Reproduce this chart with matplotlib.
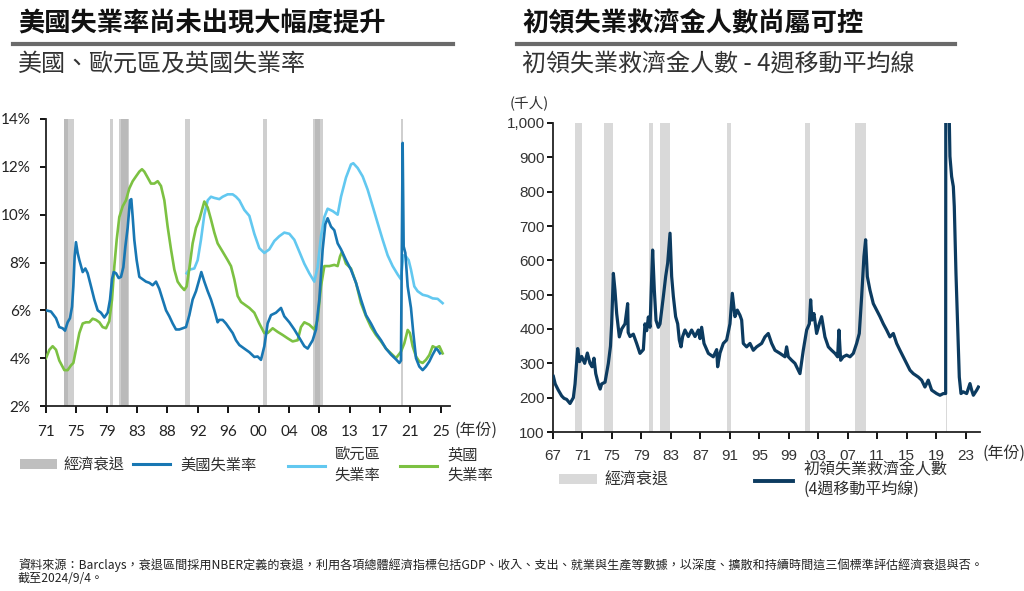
import matplotlib
matplotlib.use('Agg')
import matplotlib.pyplot as plt
import numpy as np
from matplotlib.lines import Line2D
from matplotlib.patches import Patch

W, H = 1024, 591
CJK = ['Noto Sans CJK TC', 'DejaVu Sans']
plt.rcParams['font.family'] = CJK

# ---------------- data: left chart (unemployment rate, %) ----------------
us_year = [1971.50, 1972.18, 1972.87, 1973.32, 1973.78, 1974.10, 1974.46, 1974.78, 1975.06, 1975.24,
           1975.42, 1975.60, 1975.83, 1976.06, 1976.52, 1976.88, 1977.20, 1977.66, 1978.11, 1978.57,
           1979.02, 1979.48, 1979.94, 1980.26, 1980.53, 1980.76, 1981.08, 1981.44, 1981.76, 1982.08,
           1982.35, 1982.67, 1982.99, 1983.17, 1983.36, 1983.58, 1983.90, 1984.27, 1984.72, 1985.18,
           1985.64, 1986.09, 1986.55, 1987.00, 1987.46, 1987.92, 1988.37, 1988.83, 1989.28, 1989.74,
           1990.20, 1990.65, 1991.11, 1991.56, 1992.02, 1992.48, 1992.75, 1993.16, 1993.62, 1994.07,
           1994.53, 1994.98, 1995.21, 1995.67, 1996.12, 1996.58, 1997.04, 1997.49, 1997.95, 1998.63,
           1999.32, 2000.00, 2000.45, 2000.91, 2001.37, 2001.82, 2002.28, 2002.96, 2003.65, 2004.10,
           2004.79, 2005.47, 2006.16, 2006.84, 2007.30, 2007.98, 2008.44, 2008.89, 2009.35, 2009.71,
           2010.03, 2010.49, 2010.94, 2011.40, 2011.86, 2012.54, 2013.22, 2013.91, 2014.59, 2015.28,
           2015.96, 2016.64, 2017.33, 2018.01, 2018.70, 2019.38, 2019.84, 2020.06, 2020.29, 2020.43,
           2020.66, 2020.98, 2021.43, 2021.75, 2022.12, 2022.57, 2023.03, 2023.48, 2023.94, 2024.40,
           2024.85, 2025.08, 2025.40]
us_rate = [6.00, 5.95, 5.67, 5.30, 5.25, 5.15, 5.50, 5.67, 6.15, 7.00,
           8.25, 8.85, 8.40, 8.10, 7.60, 7.75, 7.55, 7.00, 6.45, 6.00,
           5.90, 5.70, 5.90, 6.45, 7.30, 7.60, 7.55, 7.35, 7.40, 7.80,
           8.65, 9.45, 10.60, 10.65, 9.90, 8.95, 8.10, 7.40, 7.30, 7.20,
           7.15, 7.05, 7.20, 6.90, 6.45, 6.00, 5.75, 5.45, 5.20, 5.20,
           5.25, 5.30, 5.80, 6.45, 6.80, 7.30, 7.60, 7.20, 6.80, 6.45,
           6.00, 5.50, 5.60, 5.60, 5.45, 5.25, 5.05, 4.75, 4.55, 4.40,
           4.25, 4.05, 4.07, 3.93, 4.50, 5.45, 5.80, 5.90, 6.10, 5.75,
           5.50, 5.20, 4.85, 4.50, 4.40, 4.75, 5.20, 6.45, 8.55, 9.60,
           9.85, 9.50, 9.35, 8.80, 8.55, 8.10, 7.70, 7.15, 6.45, 5.80,
           5.45, 5.05, 4.75, 4.40, 4.15, 3.95, 3.80, 3.90, 13.00, 8.67,
           8.40, 7.00, 6.10, 5.05, 4.00, 3.65, 3.50, 3.65, 3.86, 4.15,
           4.40, 4.35, 4.20]

ez_year = [1990.74, 1991.11, 1991.79, 1992.25, 1992.70, 1993.16, 1993.62, 1994.07, 1994.53, 1995.21,
           1995.67, 1996.35, 1997.04, 1997.49, 1997.95, 1998.63, 1999.32, 2000.00, 2000.68, 2001.37,
           2002.05, 2002.74, 2003.42, 2004.10, 2004.79, 2005.47, 2006.16, 2006.84, 2007.52, 2008.21,
           2008.66, 2009.12, 2009.58, 2010.03, 2010.72, 2011.40, 2011.86, 2012.54, 2013.22, 2013.54,
           2014.14, 2014.82, 2015.50, 2016.19, 2016.87, 2017.56, 2018.24, 2018.92, 2019.61, 2020.06,
           2020.38, 2020.75, 2021.11, 2021.43, 2021.89, 2022.34, 2023.03, 2023.71, 2024.40, 2025.08,
           2025.76]
ez_rate = [7.55, 7.70, 7.75, 8.10, 8.95, 10.00, 10.60, 10.75, 10.70, 10.65,
           10.75, 10.85, 10.85, 10.75, 10.60, 10.20, 9.95, 9.20, 8.60, 8.40,
           8.55, 8.90, 9.10, 9.25, 9.20, 8.95, 8.45, 7.95, 7.55, 7.20,
           7.80, 9.10, 9.90, 10.25, 10.15, 10.00, 10.75, 11.55, 12.10, 12.15,
           11.95, 11.60, 11.05, 10.35, 9.65, 8.95, 8.30, 7.85, 7.50, 7.30,
           8.30, 8.25, 8.10, 7.70, 7.00, 6.80, 6.65, 6.60, 6.50, 6.48,
           6.30]

uk_year = [1971.50, 1971.96, 1972.41, 1972.87, 1973.32, 1974.01, 1974.46, 1974.92, 1975.24, 1975.60,
           1976.06, 1976.52, 1976.97, 1977.43, 1977.88, 1978.34, 1978.80, 1979.25, 1979.71, 1980.16,
           1980.53, 1980.85, 1981.17, 1981.53, 1981.99, 1982.44, 1982.90, 1983.36, 1983.81, 1984.27,
           1984.63, 1984.95, 1985.41, 1985.86, 1986.32, 1986.78, 1987.23, 1987.69, 1988.14, 1988.60,
           1989.06, 1989.51, 1989.97, 1990.42, 1990.74, 1991.11, 1991.56, 1992.02, 1992.48, 1992.84,
           1993.16, 1993.62, 1994.07, 1994.53, 1994.98, 1995.67, 1996.35, 1996.81, 1997.26, 1997.72,
           1998.18, 1998.86, 1999.32, 2000.00, 2000.68, 2001.37, 2001.82, 2002.51, 2003.19, 2003.88,
           2004.56, 2005.24, 2005.93, 2006.38, 2006.84, 2007.52, 2008.21, 2008.66, 2009.12, 2009.58,
           2010.26, 2010.94, 2011.40, 2011.72, 2011.99, 2012.54, 2013.22, 2013.91, 2014.59, 2015.28,
           2015.96, 2016.64, 2017.33, 2018.01, 2018.70, 2019.38, 2020.06, 2020.52, 2020.98, 2021.29,
           2021.66, 2022.12, 2022.57, 2023.03, 2023.48, 2023.94, 2024.40, 2024.85, 2025.31, 2025.76]
uk_rate = [4.00, 4.35, 4.50, 4.35, 3.90, 3.50, 3.50, 3.70, 3.80, 4.35,
           5.05, 5.45, 5.50, 5.50, 5.65, 5.60, 5.50, 5.30, 5.25, 5.55,
           6.45, 7.85, 8.95, 9.90, 10.35, 10.60, 11.10, 11.40, 11.60, 11.80,
           11.90, 11.80, 11.55, 11.30, 11.30, 11.40, 11.20, 10.60, 9.50, 8.55,
           7.70, 7.20, 7.00, 6.85, 7.00, 7.75, 8.80, 9.45, 9.80, 10.20,
           10.55, 10.30, 9.80, 9.25, 8.80, 8.45, 8.10, 7.85, 7.30, 6.60,
           6.35, 6.20, 6.10, 5.90, 5.45, 5.05, 5.05, 5.25, 5.10, 4.97,
           4.83, 4.70, 4.75, 5.30, 5.50, 5.40, 5.20, 5.60, 7.00, 7.85,
           7.85, 7.90, 7.85, 8.25, 8.45, 7.95, 7.75, 7.15, 6.30, 5.75,
           5.30, 4.97, 4.70, 4.40, 4.20, 4.00, 4.27, 4.62, 5.18, 5.05,
           4.50, 4.07, 3.86, 3.80, 3.93, 4.13, 4.50, 4.43, 4.50, 4.20]

left_recessions = [(1973.95, 1975.30), (1973.95, 1974.45), (1980.20, 1980.62), (1981.55, 1982.90),
                   (1981.80, 1982.65), (1990.55, 1991.20), (2001.15, 2001.75), (2008.00, 2009.35),
                   (2008.25, 2009.05), (2020.10, 2020.30)]
left_ticklabels = ['71', '75', '79', '83', '88', '92', '96', '00', '04', '08', '13', '17', '21', '25']

# ---------------- data: right chart (initial jobless claims, 4wk MA, thousands) ----------------
claims_year = [1967.05, 1967.30, 1967.72, 1968.18, 1968.50, 1968.85, 1969.31, 1969.76, 1969.99, 1970.35,
               1970.60, 1970.89, 1971.30, 1971.66, 1972.02, 1972.30, 1972.56, 1972.80, 1973.15, 1973.40,
               1973.60, 1974.06, 1974.30, 1974.51, 1974.80, 1974.96, 1975.19, 1975.41, 1975.64, 1976.00,
               1976.32, 1976.77, 1977.13, 1977.20, 1977.45, 1977.90, 1978.35, 1978.80, 1979.26, 1979.48,
               1979.71, 1979.94, 1980.16, 1980.52, 1980.75, 1980.98, 1981.29, 1981.52, 1981.97, 1982.29,
               1982.56, 1982.88, 1983.10, 1983.33, 1983.64, 1983.92, 1984.14, 1984.37, 1984.59, 1984.91,
               1985.36, 1985.81, 1986.27, 1986.72, 1986.95, 1987.17, 1987.49, 1988.08, 1988.75, 1989.21,
               1989.34, 1989.66, 1990.11, 1990.56, 1991.01, 1991.33, 1991.69, 1992.01, 1992.37, 1992.60,
               1992.82, 1993.27, 1993.73, 1994.18, 1994.63, 1995.31, 1995.76, 1996.21, 1996.67, 1997.12,
               1997.80, 1998.48, 1998.70, 1998.93, 1999.38, 1999.83, 2000.28, 2000.51, 2000.96, 2001.42,
               2001.78, 2001.96, 2002.14, 2002.41, 2002.77, 2003.13, 2003.45, 2003.90, 2004.36, 2004.81,
               2005.26, 2005.62, 2005.80, 2006.03, 2006.39, 2006.84, 2007.30, 2007.75, 2008.20, 2008.56,
               2008.88, 2009.19, 2009.42, 2009.65, 2010.01, 2010.46, 2010.91, 2011.37, 2011.82, 2012.27,
               2012.72, 2013.18, 2013.63, 2014.08, 2014.53, 2014.98, 2015.44, 2015.89, 2016.57, 2017.02,
               2017.47, 2017.92, 2018.38, 2019.05, 2019.51, 2019.96, 2020.28, 2020.36, 2020.45, 2020.60,
               2020.78, 2020.86, 2021.09, 2021.32, 2021.45, 2021.68, 2021.90, 2022.13, 2022.36, 2022.67,
               2023.13, 2023.58, 2023.81, 2024.04, 2024.49, 2024.72]
claims_k = [262, 240, 222, 205, 198, 195, 183, 200, 240, 343,
            305, 320, 300, 330, 300, 290, 315, 270, 240, 225,
            240, 245, 275, 300, 350, 415, 562, 513, 445, 377,
            400, 415, 474, 390, 378, 385, 358, 329, 340, 415,
            395, 435, 405, 630, 513, 425, 405, 415, 494, 553,
            592, 679, 553, 495, 436, 415, 368, 348, 378, 397,
            378, 397, 378, 397, 372, 405, 358, 329, 319, 340,
            290, 330, 358, 368, 415, 504, 436, 455, 440, 426,
            358, 348, 358, 338, 348, 358, 377, 387, 358, 338,
            329, 319, 348, 319, 309, 300, 280, 270, 338, 397,
            415, 485, 426, 445, 387, 415, 436, 377, 348, 338,
            329, 319, 397, 309, 319, 324, 319, 329, 358, 387,
            494, 611, 660, 553, 513, 474, 455, 436, 415, 397,
            377, 387, 358, 338, 319, 300, 280, 270, 260, 251,
            231, 251, 222, 212, 207, 212, 212, 4265, 3000, 1800,
            1000, 903, 844, 815, 757, 562, 415, 260, 212, 217,
            212, 241, 222, 207, 222, 231]

right_recessions = [(1969.95, 1970.90), (1973.90, 1975.20), (1980.00, 1980.55), (1981.55, 1982.90),
                    (1990.55, 1991.20), (2001.20, 2001.90), (2007.95, 2009.50), (2020.35, 2020.45)]
right_tickyears = [1967, 1971, 1975, 1979, 1983, 1987, 1991, 1995, 1999, 2003, 2007, 2011, 2015, 2019, 2023]
right_ticklabels = ['67', '71', '75', '79', '83', '87', '91', '95', '99', '03', '07', '11', '15', '19', '23']

# ---------------- colours ----------------
C_US, C_EZ, C_UK = '#1877b3', '#62c8f0', '#7cc142'
C_CLAIMS = '#0c3b60'
C_REC_L, C_REC_R = '#a9a9a9', '#d9d9d9'
C_TEXT = '#303030'


def fx(x):
    return x / W


def fy(y):
    return 1 - y / H


fig = plt.figure(figsize=(W / 100, H / 100), dpi=100)
fig.patch.set_facecolor('white')

# ---------------- headers ----------------
for x0, x1, title, sub in [(18, 453, '美國失業率尚未出現大幅度提升', '美國、歐元區及英國失業率'),
                           (522, 955, '初領失業救濟金人數尚屬可控', '初領失業救濟金人數 - 4週移動平均線')]:
    fig.text(fx(x0), fy(24), title, fontsize=18.9, fontweight='bold', color='#111111',
             ha='left', va='center')
    fig.add_artist(Line2D([fx(x0 - 5), fx(x1)], [fy(44), fy(44)], color='#6a6a6a', lw=3.0,
                          transform=fig.transFigure))
    fig.text(fx(x0), fy(64), sub, fontsize=17.3, color='#333333', ha='left', va='center')

# ---------------- left chart ----------------
axL = fig.add_axes([fx(46), fy(406), (450 - 46) / W, (406 - 119) / H])
for a, b in left_recessions:
    axL.axvspan(a, b, color=C_REC_L, alpha=0.55, lw=0, zorder=1)
axL.plot(ez_year, ez_rate, color=C_EZ, lw=1.9, zorder=3)
axL.plot(uk_year, uk_rate, color=C_UK, lw=1.9, zorder=4)
axL.plot(us_year, us_rate, color=C_US, lw=1.9, zorder=5)
axL.set_xlim(1971.5, 2026.77)
axL.set_ylim(2, 14)
axL.set_yticks(np.arange(2, 15, 2))
axL.set_yticklabels([f'{v}%' for v in range(2, 15, 2)])
axL.set_xticks(np.linspace(1971.5, 2025.5, len(left_ticklabels)))
axL.set_xticklabels(left_ticklabels)
for s in ['top', 'right']:
    axL.spines[s].set_visible(False)
for s in ['left', 'bottom']:
    axL.spines[s].set_linewidth(1.3)
    axL.spines[s].set_color('#222222')
axL.tick_params(axis='y', length=4, width=1.3, pad=7, labelsize=11, labelcolor='#222222')
axL.tick_params(axis='x', length=5, width=1.3, pad=9, labelsize=11, labelcolor='#222222')
for lab in axL.get_xticklabels() + axL.get_yticklabels():
    lab.set_family(['Lato', 'DejaVu Sans'])
fig.text(fx(455), fy(430), '(年份)', fontsize=11.5, color=C_TEXT, ha='left', va='center')

# left legend
leg_items_L = [(Patch(color='#bfbfbf', lw=0), '經濟衰退', 20, 0.4),
               (Line2D([], [], color=C_US, lw=2.2), '美國失業率', 133, 0.65),
               (Line2D([], [], color=C_EZ, lw=2.2), '歐元區\n失業率', 288, 0.6),
               (Line2D([], [], color=C_UK, lw=2.2), '英國\n失業率', 400, 0.65)]
for h, lab, xpos, pad in leg_items_L:
    lg = fig.legend([h], [lab], loc='center left', bbox_to_anchor=(fx(xpos), fy(465)),
                    frameon=False, fontsize=11, handlelength=2.45, handleheight=0.6,
                    handletextpad=pad, borderpad=0, borderaxespad=0, labelspacing=0)
    for t in lg.get_texts():
        t.set_color(C_TEXT)
        t.set_linespacing(1.25)

# ---------------- right chart ----------------
axR = fig.add_axes([fx(553), fy(432), (980 - 553) / W, (432 - 123) / H])
for a, b in right_recessions:
    axR.axvspan(a, b, color=C_REC_R, lw=0, zorder=1)
axR.plot(claims_year, claims_k, color=C_CLAIMS, lw=2.3, zorder=3)
axR.set_xlim(1967, 2024.94)
axR.set_ylim(100, 1000)
axR.set_yticks(np.arange(100, 1001, 100))
axR.set_yticklabels([f'{v:,}' for v in range(100, 1001, 100)])
axR.set_xticks(right_tickyears)
axR.set_xticklabels(right_ticklabels)
for s in ['top', 'right']:
    axR.spines[s].set_visible(False)
for s in ['left', 'bottom']:
    axR.spines[s].set_linewidth(1.3)
    axR.spines[s].set_color('#222222')
axR.tick_params(axis='y', length=4, width=1.3, pad=2, labelsize=11, labelcolor='#333333')
axR.tick_params(axis='x', length=5, width=1.3, pad=7, labelsize=11, labelcolor='#333333')
for lab in axR.get_xticklabels() + axR.get_yticklabels():
    lab.set_family(['Liberation Sans Narrow', 'Liberation Sans', 'DejaVu Sans'])
fig.text(fx(982), fy(453), '(年份)', fontsize=11.5, color=C_TEXT, ha='left', va='center')
fig.text(fx(529), fy(103), '(千人)', fontsize=10.5, color=C_TEXT, ha='center', va='center')

leg_items_R = [(Patch(color=C_REC_R, lw=0), '經濟衰退', 559, 0.45),
               (Line2D([], [], color=C_CLAIMS, lw=2.8), '初領失業救濟金人數\n(4週移動平均線)', 755, 0.65)]
for h, lab, xpos, pad in leg_items_R:
    lg = fig.legend([h], [lab], loc='center left', bbox_to_anchor=(fx(xpos), fy(480)),
                    frameon=False, fontsize=11.5, handlelength=2.4, handleheight=0.6,
                    handletextpad=pad, borderpad=0, borderaxespad=0, labelspacing=0)
    for t in lg.get_texts():
        t.set_color(C_TEXT)
        t.set_linespacing(1.2)

# ---------------- footnote ----------------
fig.text(fx(18), fy(565),
         '資料來源：Barclays，衰退區間採用NBER定義的衰退，利用各項總體經濟指標包括GDP、收入、支出、就業與生產等數據，'
         '以深度、擴散和持續時間這三個標準評估經濟衰退與否。',
         fontsize=8.7, color='#222222', ha='left', va='center')
fig.text(fx(18), fy(578), '截至2024/9/4。', fontsize=8.7, color='#222222', ha='left', va='center')

fig.savefig('out.png', dpi=100, facecolor='white')
